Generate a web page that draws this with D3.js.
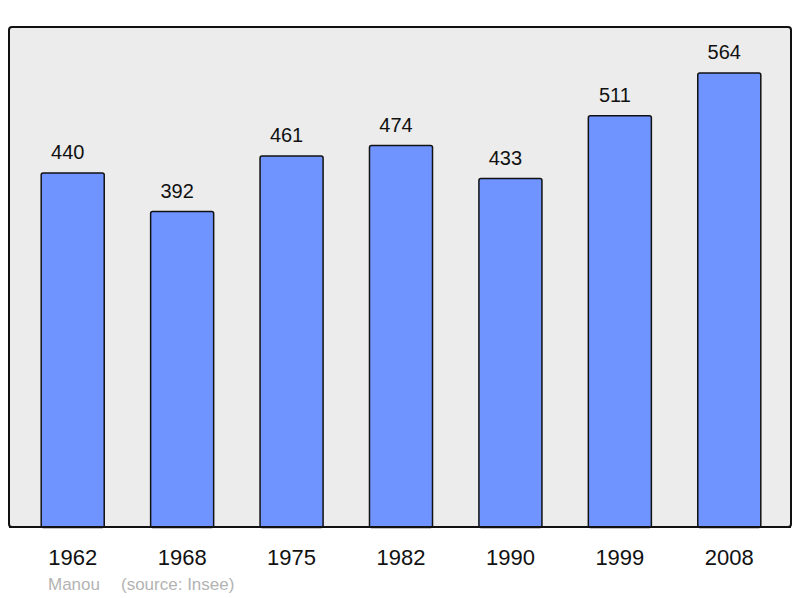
<!DOCTYPE html>
<html>
<head>
<meta charset="utf-8">
<script src="https://d3js.org/d3.v7.min.js"></script>
<style>
  body { margin: 0; background: #fff; }
  text { font-family: "Liberation Sans", Arial, sans-serif; }
</style>
</head>
<body>
<div class="chart"></div>
<script>
// population data
var years = ["1962", "1968", "1975", "1982", "1990", "1999", "2008"];
var population = [440, 392, 461, 474, 433, 511, 564];

var svgWidth = 800;
var svgHeight = 598;

var frame = { left: 9, top: 27, right: 791, bottom: 527 };

var svg = d3.select(".chart")
  .append("svg")
  .attr("width", svgWidth)
  .attr("height", svgHeight);

// background frame
svg.append("rect")
  .attr("x", frame.left)
  .attr("y", frame.top)
  .attr("width", frame.right - frame.left)
  .attr("height", frame.bottom - frame.top)
  .attr("rx", 3)
  .attr("fill", "#ececec")
  .attr("stroke", "#111")
  .attr("stroke-width", 2);

var xScale = d3.scaleBand()
  .domain(years)
  .range([18, 784])
  .paddingInner(0.424)
  .paddingOuter(0.212);

var yScale = d3.scaleLinear()
  .domain([0, d3.max(population) * 1.1])
  .range([frame.bottom, frame.top]);

var data = years.map(function(y, i) { return { year: y, value: population[i] }; });

// bars
svg.selectAll(".bar")
  .data(data)
  .enter()
  .append("rect")
  .attr("class", "bar")
  .attr("x", d => xScale(d.year))
  .attr("y", d => yScale(d.value) + 0.5)
  .attr("width", xScale.bandwidth())
  .attr("height", d => frame.bottom - yScale(d.value))
  .attr("rx", 2)
  .attr("fill", "#7094ff")
  .attr("stroke", "#111")
  .attr("stroke-width", 1.5);

// redraw bottom border over bar bottoms
svg.append("line")
  .attr("x1", frame.left)
  .attr("x2", frame.right)
  .attr("y1", frame.bottom)
  .attr("y2", frame.bottom)
  .attr("stroke", "#111")
  .attr("stroke-width", 2);

// value labels (sit slightly left of bar centre)
svg.selectAll(".value")
  .data(data)
  .enter()
  .append("text")
  .attr("class", "value")
  .attr("x", d => xScale(d.year) + xScale.bandwidth() / 2 - 5)
  .attr("y", d => yScale(d.value) - 13)
  .attr("text-anchor", "middle")
  .style("font-size", "20px")
  .style("fill", "#111")
  .text(d => d.value);

// x axis labels
var xAxis = d3.axisBottom(xScale).tickSize(0).tickPadding(0);
var axisG = svg.append("g")
  .attr("transform", `translate(0, 565)`)
  .call(xAxis);
axisG.select(".domain").remove();
axisG.selectAll("text")
  .attr("dy", 0)
  .attr("y", 0)
  .style("font-size", "22px")
  .style("font-family", "'Liberation Sans', Arial, sans-serif")
  .style("fill", "#111");

// credits
svg.append("text")
  .attr("x", 48)
  .attr("y", 590)
  .style("font-size", "17px")
  .style("fill", "#b3b3b3")
  .text("Manou");

svg.append("text")
  .attr("x", 121)
  .attr("y", 590)
  .style("font-size", "17px")
  .style("fill", "#b3b3b3")
  .text("(source: Insee)");
</script>
</body>
</html>
